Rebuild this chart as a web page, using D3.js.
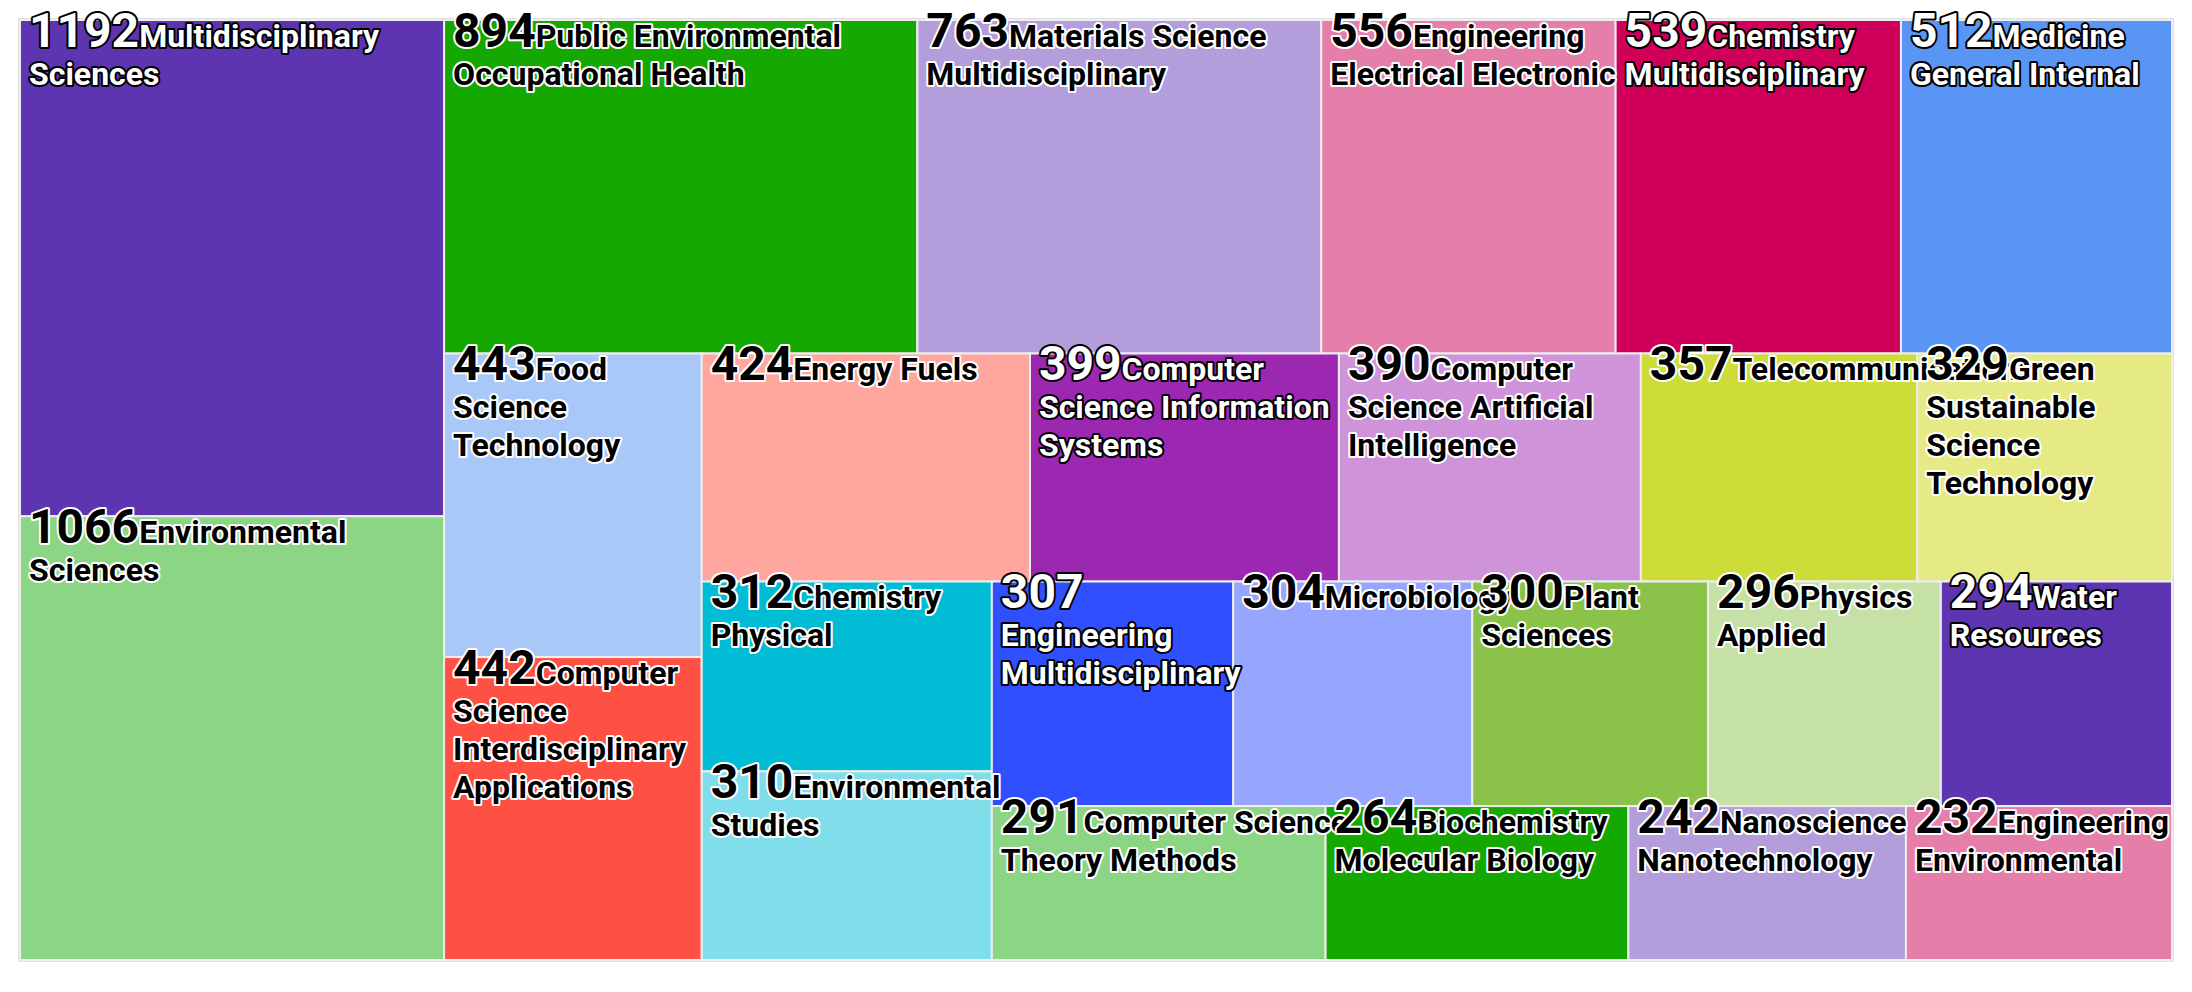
<!DOCTYPE html>
<html>
<head>
<meta charset="utf-8">
<script src="https://cdn.jsdelivr.net/npm/d3@7"></script>
<style>
  body { margin: 0; background: #fff; }
  text { font-family: Roboto, "Noto Sans", sans-serif; font-weight: 700; }
</style>
</head>
<body>
<div id="chart"></div>
<script>
// subject categories and record counts
var categories = ["Multidisciplinary Sciences", "Environmental Sciences", "Public Environmental Occupational Health",
  "Materials Science Multidisciplinary", "Engineering Electrical Electronic", "Chemistry Multidisciplinary",
  "Medicine General Internal", "Food Science Technology", "Computer Science Interdisciplinary Applications",
  "Energy Fuels", "Computer Science Information Systems", "Computer Science Artificial Intelligence",
  "Telecommunications", "Green Sustainable Science Technology", "Chemistry Physical", "Environmental Studies",
  "Engineering Multidisciplinary", "Microbiology", "Plant Sciences", "Physics Applied", "Water Resources",
  "Computer Science Theory Methods", "Biochemistry Molecular Biology", "Nanoscience Nanotechnology",
  "Engineering Environmental"];
var counts = [1192, 1066, 894, 763, 556, 539, 512, 443, 442, 424, 399, 390, 357, 329, 312, 310,
  307, 304, 300, 296, 294, 291, 264, 242, 232];

var palette = ["#5e35b1", "#8cd585", "#14a800", "#b39ddb", "#e57faa", "#d0005a", "#5895f5", "#a9c7f7",
  "#ff5044", "#ffa69e", "#9c27b0", "#ce93d8", "#cddc39", "#e6ea85", "#00bcd4", "#80deea",
  "#304ffe", "#96a6ff", "#8bc34a", "#c5e1a5"];
var labelInk = ["#fff", "#000", "#000", "#000", "#000", "#fff", "#fff", "#000", "#000", "#000",
  "#fff", "#000", "#000", "#000", "#000", "#000", "#fff", "#000", "#000", "#000"];

var W = 2192, H = 992;
var margin = {top: 20, right: 20, bottom: 32, left: 20};
var width = W - margin.left - margin.right,
    height = H - margin.top - margin.bottom;
var valueSize = 48, nameSize = 32, lineH = 38, pad = 9, slack = 8;

var color = d3.scaleOrdinal().domain(categories).range(palette);
var ink = d3.scaleOrdinal().domain(categories).range(labelInk);

// strips alternate between a column and a row, greedy on the aspect score
function tileAlternate(ratio) {
  return function(parent, x0, y0, x1, y1) {
    var nodes = parent.children, n = nodes.length, i0 = 0,
        value = parent.value, column = true;
    while (i0 < n) {
      var dx = x1 - x0, dy = y1 - y0,
          len = column ? dy : dx,
          k = dx * dy / value,
          sum = 0, best = Infinity, i1 = i0;
      for (; i1 < n; i1++) {
        var s = sum + nodes[i1].value,
            t = s * k / len,
            wmax = nodes[i0].value / s * len,
            wmin = nodes[i1].value / s * len,
            score = Math.max(ratio * wmax / t, t / (ratio * wmin));
        if (score > best) break;
        best = score; sum = s;
      }
      var row = {value: sum, children: nodes.slice(i0, i1)};
      if (column) d3.treemapSlice(row, x0, y0, x0 += dx * sum / value, y1);
      else d3.treemapDice(row, x0, y0, x1, y0 += dy * sum / value);
      value -= sum; i0 = i1; column = !column;
    }
  };
}

var root = d3.hierarchy({children: categories.map(function(c, i) { return {name: c, value: counts[i]}; })})
  .sum(function(d) { return d.value; })
  .sort(function(a, b) { return b.value - a.value; });

d3.treemap()
  .size([width, height])
  .tile(tileAlternate(0.8))
  (root);

var svg = d3.select("#chart").append("svg")
  .attr("width", W)
  .attr("height", H);

var g = svg.append("g")
  .attr("transform", "translate(" + margin.left + "," + margin.top + ")");

g.append("rect")
  .attr("x", -1).attr("y", -1)
  .attr("width", width + 2).attr("height", height + 2)
  .attr("fill", "none")
  .attr("stroke", "#e0e0e0")
  .attr("stroke-width", 2);

var leaves = root.leaves();

g.selectAll("rect.tile")
  .data(leaves)
  .enter().append("rect")
  .attr("class", "tile")
  .attr("x", function(d) { return d.x0; })
  .attr("y", function(d) { return d.y0; })
  .attr("width", function(d) { return d.x1 - d.x0; })
  .attr("height", function(d) { return d.y1 - d.y0; })
  .attr("fill", function(d) { return color(d.data.name); })
  .attr("stroke", "#eeeeee")
  .attr("stroke-width", 2);

// measuring text for the wrapping: the value at its size, words summed
var probe = svg.append("text").attr("opacity", 0);
function measure(s, size) { probe.attr("font-size", size).text(s); return probe.node().getComputedTextLength(); }
function lineWidth(line, first) {
  return line.reduce(function(acc, w, i) {
    return acc + measure(w, first && i === 0 ? valueSize : nameSize);
  }, 0);
}

function wrap(d) {
  var words = d.data.name.split(/\s+/),
      maxW = d.x1 - d.x0 + slack;
  var lines = [], line = [String(d.value)];
  if (words.length === 1) return [line.concat(words)];
  words.forEach(function(w) {
    if (lineWidth(line.concat(w), lines.length === 0) > maxW && line.length > 0) {
      lines.push(line);
      line = [w];
    } else line.push(w);
  });
  lines.push(line);
  return lines;
}

var labels = g.selectAll("text.label")
  .data(leaves)
  .enter().append("text")
  .attr("class", "label")
  .attr("x", function(d) { return d.x0 + pad; })
  .attr("y", function(d) { return d.y0 + 26.5; })
  .attr("fill", function(d) { return ink(d.data.name); })
  .attr("stroke", function(d) { return ink(d.data.name) === "#fff" ? "#000" : "#fff"; })
  .attr("stroke-width", 4)
  .attr("stroke-linejoin", "round")
  .attr("paint-order", "stroke");

labels.each(function(d) {
  var text = d3.select(this), lines = wrap(d);
  lines.forEach(function(line, i) {
    if (i === 0) {
      text.append("tspan").attr("font-size", valueSize).text(line[0]);
      if (line.length > 1) text.append("tspan").attr("font-size", nameSize).text(line.slice(1).join(" "));
    } else {
      text.append("tspan")
        .attr("x", d.x0 + pad)
        .attr("y", d.y0 + 26.5 + i * lineH)
        .attr("font-size", nameSize)
        .text(line.join(" "));
    }
  });
});

probe.remove();
</script>
</body>
</html>
